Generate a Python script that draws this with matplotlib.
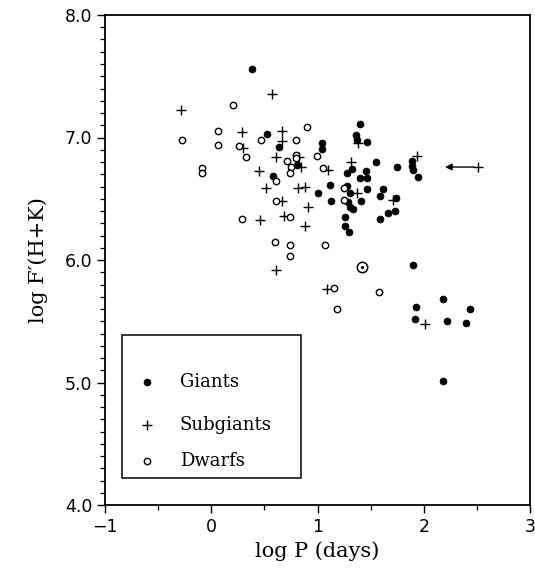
import matplotlib
matplotlib.use("Agg")
import matplotlib.pyplot as plt
from matplotlib.ticker import MultipleLocator, FormatStrFormatter, FuncFormatter
from matplotlib.patches import Rectangle

# ---- data (log P [days], log F'(H+K)) ----
giants_logP = [0.386, 0.527, 0.640, 1.044, 1.044, 1.402, 1.364, 1.373, 1.468, 1.552,
               1.750, 1.891, 1.891, 1.900, 1.947, 0.809, 0.583, 1.326, 1.279, 1.458,
               1.402, 1.468, 1.119, 1.279, 1.468, 1.618, 1.308, 1.007, 1.590, 1.740,
               1.129, 1.289, 1.411, 1.308, 1.336, 1.731, 1.665, 1.590, 1.260, 1.260,
               1.298, 1.900, 2.183, 1.928, 2.437, 1.919, 2.220, 2.399, 2.183]
giants_logF = [7.56, 7.03, 6.92, 6.955, 6.906, 7.11, 7.02, 6.98, 6.963, 6.80,
               6.759, 6.808, 6.767, 6.735, 6.678, 6.776, 6.686, 6.743, 6.710, 6.727,
               6.669, 6.669, 6.612, 6.604, 6.580, 6.580, 6.547, 6.547, 6.522, 6.506,
               6.482, 6.473, 6.482, 6.433, 6.416, 6.400, 6.384, 6.335, 6.351, 6.278,
               6.229, 5.959, 5.682, 5.616, 5.600, 5.518, 5.502, 5.486, 5.012]

subgiants_logP = [-0.282, 0.574, 0.292, 0.301, 0.452, 0.668, 0.668, 0.611, 0.828, 0.847,
                  1.101, 1.317, 1.383, 1.938, 0.517, 0.818, 0.884, 1.373, 1.712, 0.668,
                  0.913, 0.461, 0.687, 0.884, 0.611, 1.091, 2.013, 2.512]
subgiants_logF = [7.224, 7.355, 7.045, 6.914, 6.727, 7.053, 6.971, 6.841, 6.841, 6.759,
                  6.735, 6.800, 6.955, 6.849, 6.584, 6.584, 6.592, 6.551, 6.486, 6.482,
                  6.433, 6.327, 6.363, 6.278, 5.918, 5.763, 5.478, 6.759]

dwarfs_logP = [0.207, 0.066, -0.273, 0.470, 0.066, 0.263, 0.329, -0.085, -0.085, 0.903,
               0.800, 0.997, 0.800, 0.800, 0.715, 0.753, 0.743, 1.054, 0.611, 1.251,
               1.246, 0.609, 0.737, 0.289, 0.602, 0.743, 0.743, 1.072, 1.583, 1.157,
               1.188]
dwarfs_logF = [7.269, 7.053, 6.980, 6.976, 6.939, 6.931, 6.841, 6.749, 6.713, 7.082,
               6.976, 6.845, 6.861, 6.833, 6.808, 6.757, 6.710, 6.749, 6.641, 6.590,
               6.486, 6.478, 6.349, 6.332, 6.149, 6.122, 6.035, 6.122, 5.741, 5.769,
               5.602]

sun_logP = [1.418]
sun_logF = [5.945]

# upper-limit arrow: from subgiant point to the tip
arrow_from = (2.512, 6.759)
arrow_to = (2.20, 6.759)

x_ticks = [-1, 0, 1, 2, 3]
y_ticks = [4.0, 5.0, 6.0, 7.0, 8.0]
legend_labels = ["Giants", "Subgiants", "Dwarfs"]

# ---- figure ----
fig = plt.figure(figsize=(5.35, 5.76), dpi=100)
ax = fig.add_axes([105/535, 1 - 505/576, 425/535, 490/576])

serif = ["DejaVu Serif"]

giant_style = dict(marker='o', color='black', ms=5.0, mew=0.5, ls='none')
sub_style = dict(marker='+', color='black', ms=6.5, mew=1.0, ls='none')
dwarf_style = dict(marker='o', mfc='white', mec='black', ms=4.6, mew=1.0, ls='none')

ax.plot(giants_logP, giants_logF, **giant_style)
ax.plot(subgiants_logP, subgiants_logF, **sub_style)
ax.plot(dwarfs_logP, dwarfs_logF, **dwarf_style)
ax.plot(sun_logP, sun_logF, 'o', mfc='white', mec='black', ms=7.5, mew=1.1, ls='none')
ax.plot(sun_logP, sun_logF, 'o', color='black', ms=1.3, ls='none')

ax.annotate("", xy=arrow_to, xytext=arrow_from,
            arrowprops=dict(arrowstyle='-|>', color='black', lw=1.0,
                            mutation_scale=10, shrinkA=3, shrinkB=0))

ax.set_xlim(-1, 3)
ax.set_ylim(4.0, 8.0)
ax.set_xticks(x_ticks)
ax.set_yticks(y_ticks)
ax.xaxis.set_minor_locator(MultipleLocator(0.5))
ax.yaxis.set_minor_locator(MultipleLocator(0.1))
ax.yaxis.set_major_formatter(FormatStrFormatter('%.1f'))
ax.xaxis.set_major_formatter(FuncFormatter(
    lambda v, p: ('\u2212%d' % abs(v)) if v < 0 else '%d' % v))

ax.tick_params(axis='both', which='major', direction='out', length=6, width=1.0,
               labelsize=12.5, pad=3)
ax.tick_params(axis='both', which='minor', direction='out', length=3.5, width=0.9)
for lab in ax.get_xticklabels() + ax.get_yticklabels():
    lab.set_family("DejaVu Sans")

for s in ax.spines.values():
    s.set_linewidth(1.3)

ax.set_xlabel("log P (days)", family=serif, fontsize=15, labelpad=4)
ax.set_ylabel("log F\u2032(H+K)", family=serif, fontsize=15, labelpad=12)

# ---- legend box (drawn manually in axes coordinates) ----
ax.add_patch(Rectangle((0.040, 0.055), 0.420, 0.292, transform=ax.transAxes,
                       fill=False, edgecolor='black', lw=1.1, zorder=5))
leg_y = [0.251, 0.163, 0.090]
leg_styles = [giant_style, sub_style, dwarf_style]
for yy, lab, st in zip(leg_y, legend_labels, leg_styles):
    ax.plot([0.099], [yy], transform=ax.transAxes, zorder=6, **st)
    ax.text(0.176, yy, lab, transform=ax.transAxes, va='center', ha='left',
            family=serif, fontsize=13, zorder=6)

fig.savefig("out.png", dpi=100)
